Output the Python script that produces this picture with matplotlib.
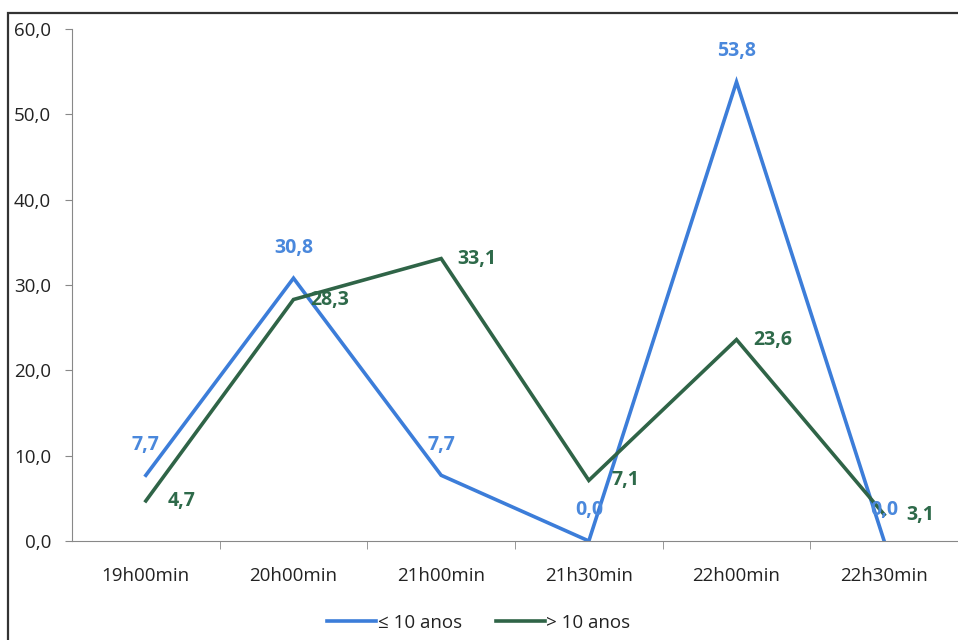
import matplotlib.pyplot as plt
import matplotlib.patches as mpatches

categorias = ["19h00min", "20h00min", "21h00min", "21h30min", "22h00min", "22h30min"]
ate_10 = [7.7, 30.8, 7.7, 0.0, 53.8, 0.0]
mais_10 = [4.7, 28.3, 33.1, 7.1, 23.6, 3.1]
series_nomes = ["≤ 10 anos", "> 10 anos"]

azul = "#3C7DD9"
verde = "#2F6447"
azul_txt = "#4A88DC"
verde_txt = "#2E6A4A"

plt.rcParams['font.family'] = ['Open Sans', 'DejaVu Sans']
fs = 13.5

fig = plt.figure(figsize=(9.58, 6.4), dpi=100)
# outer frame of the chart area
fig.patches.append(mpatches.Rectangle((8 / 958, -0.01), 1.0, 1 - 13 / 640 + 0.01,
                                      transform=fig.transFigure, fill=False,
                                      edgecolor="#333333", lw=1.6))

ax = fig.add_axes([72 / 958, 1 - 541 / 640, (958 - 72) / 958, (541 - 29) / 640])
x = list(range(len(categorias)))

ax.plot(x, ate_10, color=azul, lw=2.6, label=series_nomes[0], solid_joinstyle="miter")
ax.plot(x, mais_10, color=verde, lw=2.6, label=series_nomes[1], solid_joinstyle="miter")

fmt = lambda v: f"{v:.1f}".replace(".", ",")
for xi, v in zip(x, ate_10):
    ax.annotate(fmt(v), (xi, v), xytext=(0, 22), textcoords="offset points",
                ha="center", va="center", color=azul_txt, fontsize=fs + 0.5, fontweight="bold")
for xi, v in zip(x, mais_10):
    ax.annotate(fmt(v), (xi, v), xytext=(26, 0), textcoords="offset points",
                ha="center", va="center", color=verde_txt, fontsize=fs + 0.5, fontweight="bold")

ax.set_xlim(-0.5, len(categorias) - 0.5)
ax.set_ylim(0, 60)
ax.set_yticks(range(0, 61, 10))
ax.set_yticklabels([fmt(v) for v in range(0, 61, 10)], fontsize=fs, color="#222222")
ax.set_xticks(x)
ax.set_xticklabels(categorias, fontsize=fs, color="#222222")
ax.tick_params(axis="x", length=0, pad=19)
ax.set_xticks([i + 0.5 for i in x[:-1]], minor=True)
ax.tick_params(axis="x", which="minor", length=6, color="#888888", direction="out")
ax.tick_params(axis="y", length=5, color="#888888", direction="out", pad=10)

for s in ["top", "right"]:
    ax.spines[s].set_visible(False)
ax.spines["left"].set_color("#888888")
ax.spines["bottom"].set_color("#888888")
ax.set_facecolor("none")

leg = fig.legend(loc="center", bbox_to_anchor=(0.5, 1 - 623 / 640), ncol=2, frameon=False,
                 fontsize=fs, handlelength=2.6, handletextpad=0.1, columnspacing=1.8)
for t in leg.get_texts():
    t.set_color("#222222")

fig.savefig("out.png", dpi=100)
